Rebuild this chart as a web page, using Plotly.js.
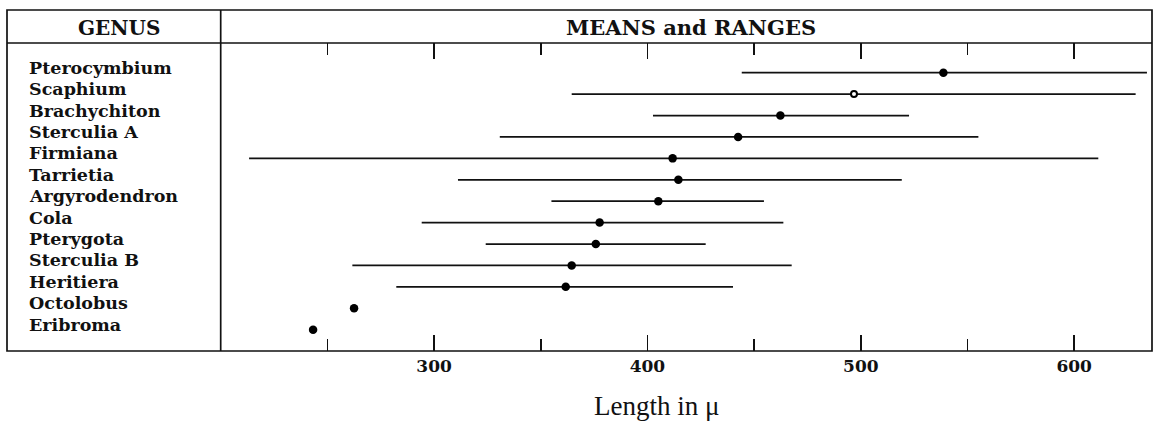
<!DOCTYPE html>
<html>
<head>
<meta charset="utf-8">
<script src="https://cdn.plot.ly/plotly-3.0.1.min.js"></script>
<style>html,body{margin:0;padding:0;background:#fff;}#chart{width:1153px;height:424px;}</style>
</head>
<body>
<div id="chart"></div>
<script>
// Data
const genera = ["Pterocymbium","Scaphium","Brachychiton","Sterculia A","Firmiana","Tarrietia","Argyrodendron","Cola","Pterygota","Sterculia B","Heritiera","Octolobus","Eribroma"];
const means = [538.7, 496.8, 462.3, 442.5, 411.8, 414.5, 405.1, 377.6, 375.8, 364.5, 361.7, 262.5, 243.3];
const rangeMin = [444.2, 364.5, 402.6, 330.8, 213.3, 311.2, 355.0, 294.2, 324.2, 261.7, 282.3, null, null];
const rangeMax = [634.1, 628.8, 522.6, 555.1, 611.3, 519.2, 454.6, 463.7, 427.3, 467.6, 440.1, null, null];
const openMean = [false, true, false, false, false, false, false, false, false, false, false, false, false];
const majorTicks = [300, 400, 500, 600];
const minorTicks = [250, 350, 450, 550];

const W = 1153, H = 424;
const px = v => v / W, py = v => 1 - v / H;
const ink = "#111111";
const labelFont = "DejaVu Serif";

// range segments
const rx = [], ry = [];
genera.forEach((g, i) => {
  if (rangeMin[i] != null && rangeMax[i] != null) {
    rx.push(rangeMin[i], rangeMax[i], null);
    ry.push(g, g, null);
  }
});

const traces = [
  {type: "scatter", mode: "lines", x: rx, y: ry,
   line: {color: ink, width: 1.7}, hoverinfo: "skip", showlegend: false},
  {type: "scatter", mode: "markers", x: means, y: genera,
   marker: {color: means.map((m,i)=> openMean[i] ? "#fff" : "#000"),
            opacity: 1,
            symbol: "circle",
            size: means.map((m,i)=> openMean[i] ? 6 : 8.5),
            line: {color: "#000", width: means.map((m,i)=> openMean[i] ? 2 : 0)}},
   showlegend: false}
];

const annotations = genera.map(g => ({
  xref: "paper", yref: "y", x: px(27), y: g, xanchor: "left", yanchor: "middle",
  text: g, showarrow: false, yshift: 5,
  font: {family: labelFont, size: 17.5, color: ink, weight: "bold"}
}));
annotations.push(
  {xref:"paper", yref:"paper", x: px(119), y: py(28), text: "GENUS", showarrow:false,
   xanchor:"center", yanchor:"middle", font:{family: labelFont, size: 20, color: ink, weight: "bold"}},
  {xref:"paper", yref:"paper", x: px(691), y: py(28), text: "MEANS and RANGES", showarrow:false,
   xanchor:"center", yanchor:"middle", font:{family: labelFont, size: 21, color: ink, weight: "bold"}},
  {xref:"paper", yref:"paper", x: px(656), y: py(406), text: "Length in \u03bc", showarrow:false,
   xanchor:"center", yanchor:"middle", font:{family: "Liberation Serif", size: 27, color: ink}}
);

const lineStyle = {color: ink, width: 1.7};
const shapes = [
  {type:"rect", xref:"paper", yref:"paper", x0:px(7), x1:px(1152), y0:py(351), y1:py(10), line:lineStyle},
  {type:"line", xref:"paper", yref:"paper", x0:px(7), x1:px(1152), y0:py(43), y1:py(43), line:lineStyle},
  {type:"line", xref:"paper", yref:"paper", x0:px(220.7), x1:px(220.7), y0:py(351), y1:py(10), line:lineStyle}
];

const layout = {
  width: W, height: H,
  margin: {l:0, r:0, t:0, b:0},
  paper_bgcolor: "#fff", plot_bgcolor: "#fff",
  xaxis: {
    domain: [px(220.7), px(1151)],
    range: [200, 636],
    showgrid: false, zeroline: false,
    showline: false, mirror: "ticks",
    ticks: "inside", ticklen: 16, tickwidth: 1.5, tickcolor: ink,
    tickvals: majorTicks, ticktext: majorTicks.map(String),
    tickfont: {family: "DejaVu Serif", size: 17, color: ink, weight: "bold"},
    ticklabelstandoff: 3,
    minor: {tickvals: minorTicks, ticks: "inside", ticklen: 12, tickwidth: 1.5, tickcolor: ink, showgrid: false}
  },
  yaxis: {
    domain: [py(351), py(43)],
    type: "category",
    categoryorder: "array", categoryarray: genera,
    range: [12.995, -1.387],
    showgrid: false, zeroline: false, showline: false,
    showticklabels: false, ticks: ""
  },
  annotations, shapes,
  showlegend: false
};

Plotly.newPlot("chart", traces, layout, {displayModeBar: false, staticPlot: true});
</script>
</body>
</html>
